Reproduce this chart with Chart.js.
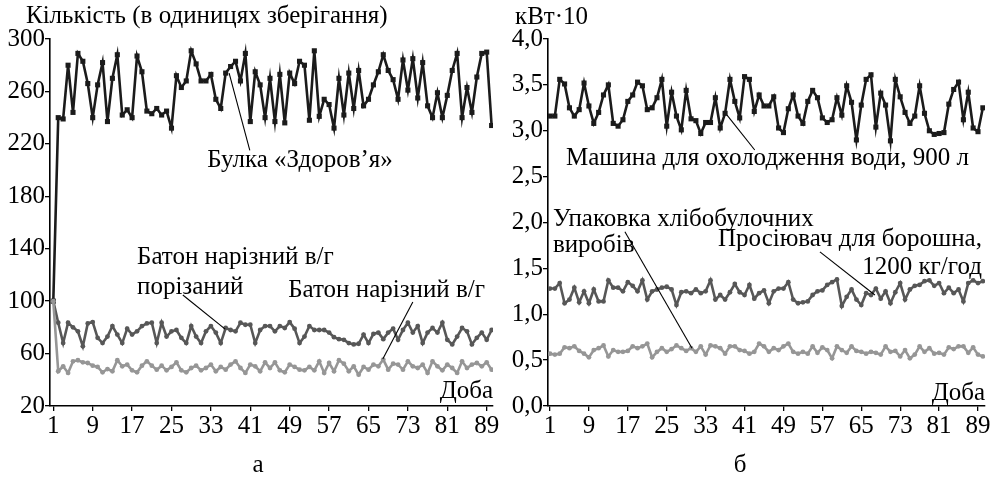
<!DOCTYPE html>
<html>
<head>
<meta charset="utf-8">
<script src="https://cdn.jsdelivr.net/npm/chart.js@4.4.1/dist/chart.umd.min.js"></script>
<style>
  html, body { margin: 0; padding: 0; background: #fff; }
  #wrap { position: relative; width: 996px; height: 477px; overflow: hidden; }
  #left { position: absolute; left: 0; top: 0; }
  #right { position: absolute; left: 500px; top: 0; }
</style>
</head>
<body>
<div id="wrap">
  <canvas id="left" width="520" height="477"></canvas>
  <canvas id="right" width="496" height="477"></canvas>
</div>
<script>
// Days of observation and the labelled ticks on the day axis
const days = Array.from({ length: 90 }, (_, i) => i + 1);
const dayTicks = [1, 9, 17, 25, 33, 41, 49, 57, 65, 73, 81, 89];

// Panel a: stock quantity, units of storage
const bulkaZdorovia = [
  100, 240, 239, 280, 244, 289, 283, 266, 240, 265,
  282, 237, 270, 288, 242, 246, 240, 287, 275, 245,
  243, 247, 242, 245, 232, 272, 263, 268, 291, 281,
  268, 268, 273, 254, 247, 274, 279, 283, 268, 289,
  237, 275, 265, 240, 270, 237, 273, 236, 274, 266,
  283, 280, 238, 291, 241, 254, 250, 232, 270, 242,
  274, 247, 276, 249, 254, 265, 275, 288, 276, 269,
  254, 284, 261, 285, 255, 282, 249, 240, 259, 240,
  257, 276, 289, 240, 263, 244, 271, 289, 290, 234
];
const batonSliced = [
  100, 83.5, 68, 83.5, 80, 77, 65.5, 83, 84, 72,
  68, 73, 81, 74.5, 68, 79, 74.5, 77, 81, 83,
  83.5, 68, 83.5, 73, 77, 78, 72, 68, 81, 73,
  68, 77, 81, 76, 68, 79.5, 78, 77, 83.5, 82,
  82, 68, 78, 81, 81, 77, 81, 79.5, 84, 79,
  68, 73, 81, 78, 78, 78, 76, 72.5, 71, 70.5,
  68, 67, 67.5, 74.5, 68, 75, 76, 71, 76, 79,
  70.5, 78, 83.5, 76, 81, 68, 76, 79.5, 76, 83.5,
  70.5, 67, 73, 79.5, 77, 67, 72, 76, 70.5, 78
];
const batonWhole = [
  100, 46.5, 50.3, 45.2, 54.1, 54.9, 53.3, 52.8, 50.8, 49.8,
  45.7, 48.2, 46.5, 54.9, 50.3, 51.6, 47.2, 45.7, 50.8, 54.1,
  50.8, 47.7, 50.8, 47.2, 49.8, 53.3, 47.2, 45.7, 49, 50.8,
  47.2, 49, 51.6, 46.5, 49.8, 47.7, 51.6, 54.1, 49, 45.2,
  51.6, 50.3, 46.5, 53.3, 49, 53.3, 47.2, 45.7, 51.6, 49.8,
  47.7, 47.2, 49.8, 47.2, 54.1, 45.2, 52.8, 46.5, 54.9, 52.3,
  46.5, 50.3, 43.9, 49.8, 47.7, 51.6, 50.3, 55.4, 47.7, 52.3,
  51.6, 47.7, 54.1, 50.3, 49, 51.6, 45.2, 54.1, 50.3, 47.2,
  51.6, 49, 45.2, 54.1, 49, 51.6, 52.8, 50.3, 53.3, 47.7
];

// Panel б: power consumption, kW·10
const waterCooler = [
  3.16, 3.16, 3.56, 3.51, 3.25, 3.16, 3.23, 3.52, 3.27, 3.08,
  3.20, 3.39, 3.50, 3.08, 3.05, 3.12, 3.32, 3.39, 3.53, 3.49,
  3.23, 3.25, 3.36, 3.56, 3.05, 3.42, 3.16, 3.01, 3.44, 3.13,
  3.11, 2.97, 3.09, 3.09, 3.36, 3.03, 3.19, 3.56, 3.32, 3.14,
  3.59, 3.56, 3.21, 3.39, 3.27, 3.27, 3.37, 3.03, 2.98, 3.24,
  3.39, 3.16, 3.08, 3.32, 3.44, 3.36, 3.14, 3.09, 3.12, 3.36,
  3.17, 3.49, 3.31, 2.90, 3.28, 3.56, 3.61, 3.04, 3.41, 3.28,
  2.89, 3.56, 3.37, 3.20, 3.08, 3.16, 3.49, 3.19, 3.00, 2.96,
  2.97, 2.98, 3.29, 3.45, 3.53, 3.12, 3.42, 3.03, 2.99, 3.25
];
const flourSifter = [
  1.28, 1.28, 1.34, 1.12, 1.16, 1.29, 1.13, 1.25, 1.12, 1.27,
  1.14, 1.14, 1.37, 1.29, 1.29, 1.25, 1.35, 1.31, 1.25, 1.37,
  1.16, 1.25, 1.27, 1.29, 1.30, 1.27, 1.10, 1.24, 1.25, 1.23,
  1.27, 1.23, 1.25, 1.37, 1.16, 1.21, 1.16, 1.24, 1.33, 1.24,
  1.21, 1.32, 1.17, 1.23, 1.26, 1.12, 1.25, 1.28, 1.28, 1.35,
  1.16, 1.12, 1.13, 1.14, 1.21, 1.25, 1.26, 1.32, 1.35, 1.38,
  1.09, 1.19, 1.27, 1.16, 1.10, 1.23, 1.21, 1.28, 1.17, 1.25,
  1.12, 1.24, 1.34, 1.16, 1.27, 1.31, 1.32, 1.36, 1.37, 1.31,
  1.34, 1.23, 1.29, 1.23, 1.27, 1.14, 1.34, 1.37, 1.34, 1.36
];
const breadPacking = [
  0.57, 0.56, 0.57, 0.64, 0.63, 0.65, 0.60, 0.57, 0.53, 0.61,
  0.63, 0.66, 0.54, 0.61, 0.59, 0.59, 0.60, 0.65, 0.63, 0.65,
  0.68, 0.53, 0.59, 0.63, 0.59, 0.62, 0.66, 0.63, 0.60, 0.63,
  0.59, 0.65, 0.56, 0.66, 0.65, 0.63, 0.57, 0.65, 0.65, 0.61,
  0.60, 0.57, 0.59, 0.68, 0.65, 0.59, 0.63, 0.61, 0.65, 0.68,
  0.59, 0.57, 0.59, 0.57, 0.65, 0.58, 0.64, 0.61, 0.52, 0.65,
  0.61, 0.58, 0.65, 0.60, 0.59, 0.57, 0.59, 0.58, 0.56, 0.65,
  0.59, 0.60, 0.54, 0.61, 0.52, 0.56, 0.65, 0.59, 0.63, 0.57,
  0.58, 0.56, 0.64, 0.62, 0.65, 0.65, 0.58, 0.64, 0.56, 0.54
];

const FONT = '"Liberation Serif", "Times New Roman", serif';
const TEXT_SIZE = 25;

const toPoints = values => days.map((d, i) => ({ x: d, y: values[i] }));

// Labels with leader lines, anchored in data units; captions in canvas pixels
const calloutPlugin = {
  id: 'callouts',
  afterDraw(chart, args, opts) {
    const { ctx } = chart;
    const xs = chart.scales.x, ys = chart.scales.y;
    ctx.save();
    ctx.strokeStyle = '#000';
    ctx.fillStyle = '#000';
    ctx.lineWidth = 1.1;
    (opts.leaders || []).forEach(l => {
      ctx.beginPath();
      ctx.moveTo(xs.getPixelForValue(l.from[0]), ys.getPixelForValue(l.from[1]));
      ctx.lineTo(xs.getPixelForValue(l.to[0]), ys.getPixelForValue(l.to[1]));
      ctx.stroke();
    });
    ctx.font = TEXT_SIZE + 'px ' + FONT;
    ctx.textBaseline = 'middle';
    (opts.notes || []).forEach(n => {
      ctx.textAlign = n.align || 'left';
      ctx.fillText(n.text, xs.getPixelForValue(n.at[0]), ys.getPixelForValue(n.at[1]));
    });
    (opts.captions || []).forEach(c => {
      ctx.textAlign = c.align || 'left';
      ctx.fillText(c.text, c.x, c.y);
    });
    ctx.restore();
  }
};

function axisCommon() {
  return {
    grid: { display: true, drawOnChartArea: false, drawTicks: true, tickLength: 5, color: '#000', lineWidth: 1.3 },
    border: { display: true, color: '#000', width: 1.6 },
  };
}

function buildChart(canvas, cfg) {
  return new Chart(canvas, {
    type: 'line',
    data: { datasets: cfg.datasets },
    options: {
      responsive: false,
      animation: false,
      devicePixelRatio: 1,
      layout: { padding: cfg.padding },
      plugins: {
        legend: { display: false },
        tooltip: { enabled: false },
        callouts: cfg.callouts
      },
      elements: { line: { tension: 0 } },
      scales: {
        x: Object.assign(axisCommon(), {
          type: 'linear',
          min: cfg.xMin,
          max: cfg.xMax,
          afterBuildTicks: s => { s.ticks = dayTicks.map(v => ({ value: v })); },
          afterFit: s => { s.height = cfg.xHeight; },
          ticks: { autoSkip: false, maxRotation: 0, padding: 0, color: '#000', font: { family: FONT, size: TEXT_SIZE } }
        }),
        y: Object.assign(axisCommon(), {
          min: cfg.yMin,
          max: cfg.yMax,
          afterFit: s => { s.width = cfg.yWidth; },
          ticks: { stepSize: cfg.yStep, padding: 0, color: '#000', font: { family: FONT, size: TEXT_SIZE }, callback: cfg.yFormat }
        })
      }
    },
    plugins: [calloutPlugin]
  });
}

function series(values, color, style, radius, width) {
  return {
    data: toPoints(values),
    borderColor: color,
    backgroundColor: color,
    borderWidth: width,
    pointStyle: style,
    pointRadius: radius,
    pointBorderWidth: 0,
    pointBackgroundColor: color
  };
}

const BLACK = '#1b1b1b', DARK = '#575757', LIGHT = '#969696';

buildChart(document.getElementById('left'), {
  padding: { top: 39, right: 27, left: 0, bottom: 0 },
  xMin: 0.33, xMax: 90.28, xHeight: 71, yWidth: 50,
  yMin: 20, yMax: 300, yStep: 40,
  yFormat: v => String(v),
  datasets: [
    series(batonWhole, LIGHT, 'circle', 2.4, 2.6),
    series(batonSliced, DARK, 'circle', 2.4, 2.6),
    series(bulkaZdorovia, BLACK, 'rect', 3.6, 2.6)
  ],
  callouts: {
    leaders: [
      { from: [36.7, 274], to: [40.9, 215] },
      { from: [27.3, 104.7], to: [35.9, 78.7] },
      { from: [74.0, 99.3], to: [67.9, 55.9] }
    ],
    notes: [
      { text: 'Булка «Здоров’я»', at: [51.1, 207.7], align: 'center' },
      { text: 'Батон нарізний в/г', at: [18.0, 133.7] },
      { text: 'порізаний', at: [18.0, 110.8] },
      { text: 'Батон нарізний в/г', at: [48.7, 108.5] },
      { text: 'Доба', at: [90.28, 31.4], align: 'right' }
    ],
    captions: [
      { text: 'Кількість (в одиницях зберігання)', x: 26, y: 16 },
      { text: 'а', x: 258, y: 465, align: 'center' }
    ]
  }
});

buildChart(document.getElementById('right'), {
  padding: { top: 39, right: 11, left: 0, bottom: 0 },
  xMin: 0.589, xMax: 90.44, xHeight: 71, yWidth: 48,
  yMin: 0, yMax: 4, yStep: 0.5,
  yFormat: v => v.toFixed(1).replace('.', ','),
  datasets: [
    series(breadPacking, LIGHT, 'circle', 2.4, 2.6),
    series(flourSifter, DARK, 'circle', 2.4, 2.6),
    series(waterCooler, BLACK, 'rect', 3.6, 2.6)
  ],
  callouts: {
    leaders: [
      { from: [37.4, 3.17], to: [43.1, 2.79] },
      { from: [16.4, 1.90], to: [30.2, 0.63] },
      { from: [56.5, 1.68], to: [67.8, 1.21] }
    ],
    notes: [
      { text: 'Машина для охолодження води, 900 л', at: [45.7, 2.70], align: 'center' },
      { text: 'Упаковка хлібобулочних', at: [1.6, 2.03] },
      { text: 'виробів', at: [1.6, 1.755] },
      { text: 'Просіювач для борошна,', at: [89.8, 1.81], align: 'right' },
      { text: '1200 кг/год', at: [89.8, 1.515], align: 'right' },
      { text: 'Доба', at: [90.44, 0.14], align: 'right' }
    ],
    captions: [
      { text: 'кВт·10', x: 15, y: 17 },
      { text: 'б', x: 240, y: 465, align: 'center' }
    ]
  }
});
</script>
</body>
</html>
